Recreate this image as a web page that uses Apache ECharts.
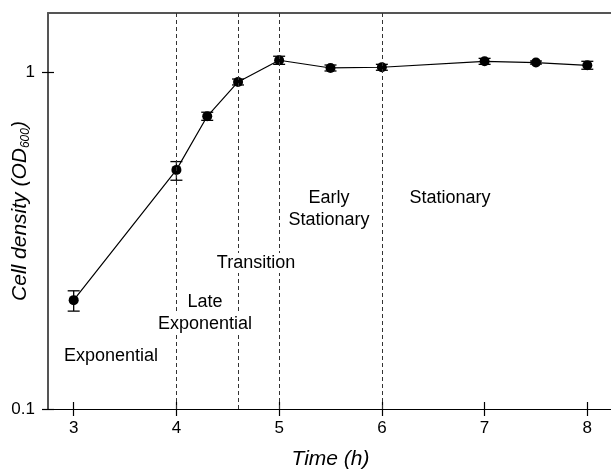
<!DOCTYPE html>
<html><head><meta charset="utf-8">
<script src="https://cdn.jsdelivr.net/npm/echarts@6/dist/echarts.min.js"></script>
<style>html,body{margin:0;padding:0;background:#fff}#c{width:611px;height:470px}</style>
</head><body><div id="c"></div>
<script>
// Data
var times = [3, 4, 4.3, 4.6, 5, 5.5, 6, 7, 7.5, 8];
var od600 = [0.2105, 0.513, 0.740, 0.936, 1.086, 1.030, 1.035, 1.078, 1.069, 1.049];
var errUpper = [0.2244, 0.543, 0.761, 0.955, 1.116, 1.051, 1.056, 1.100, 1.080, 1.078];
var errLower = [0.1953, 0.478, 0.720, 0.917, 1.056, 1.009, 1.014, 1.056, 1.058, 1.021];
var phaseBoundaries = [4, 4.6, 5, 6];
var xTicks = [3, 4, 5, 6, 7, 8];
var yTicks = [0.1, 1];
var phaseNames = ['Exponential', 'Late\nExponential', 'Transition', 'Early\nStationary', 'Stationary'];

var FONT = 'Liberation Sans, Arial, sans-serif';
var chart = echarts.init(document.getElementById('c'), null, {renderer: 'canvas'});

var linePts = times.map(function (t, i) { return [t, od600[i]]; });
var errPts = times.map(function (t, i) { return [t, errLower[i], errUpper[i]]; });

var labelPos = [[111, 356], [205, 313], [256, 263], [329, 209], [450, 198]];
var LH = 22;

var graphics = [];
phaseNames.forEach(function (name, i) {
  var lines = name.split('\n');
  var n = lines.length;
  lines.forEach(function (ln, k) {
    graphics.push({
      type: 'text', x: labelPos[i][0], y: labelPos[i][1] + (k - (n - 1) / 2) * LH, z: 10,
      style: {text: ln, fontSize: 18, fontFamily: FONT, fill: '#000', align: 'center', verticalAlign: 'middle',
        backgroundColor: '#fff', padding: [1, 1]}
    });
  });
});

var option = {
  animation: false,
  grid: {left: 48, right: -2, top: 13, bottom: 61, containLabel: false, outerBoundsMode: 'none'},
  xAxis: [
    {
      type: 'value', min: 2.75, max: 8.25, position: 'bottom',
      axisLine: {show: true, lineStyle: {color: '#000', width: 1.2}},
      axisTick: {show: true, inside: false, length: 7, customValues: xTicks, lineStyle: {color: '#000', width: 1.2}},
      axisLabel: {show: true, customValues: xTicks, margin: 11, fontSize: 17, color: '#000', fontFamily: FONT},
      splitLine: {show: false},
      name: 'Time (h)', nameLocation: 'middle', nameGap: 40, nameMoveOverlap: false,
      nameTextStyle: {fontSize: 21, fontStyle: 'italic', color: '#000', fontFamily: FONT}
    },
    {
      type: 'value', min: 2.75, max: 8.25, position: 'bottom', gridIndex: 0,
      axisLine: {show: false},
      axisTick: {show: true, inside: true, length: 7, customValues: xTicks, lineStyle: {color: '#000', width: 1.2}},
      axisLabel: {show: false}, splitLine: {show: false}
    },
    {
      type: 'value', min: 2.75, max: 8.25, position: 'top',
      axisLine: {show: true, lineStyle: {color: '#555', width: 2}},
      axisTick: {show: false}, axisLabel: {show: false}, splitLine: {show: false}
    }
  ],
  yAxis: [
    {
      type: 'log', logBase: 10, min: 0.1, max: 1.5, position: 'left',
      axisLine: {show: true, lineStyle: {color: '#555', width: 2}},
      axisTick: {show: true, inside: false, length: 6, customValues: yTicks, lineStyle: {color: '#000', width: 1.2}},
      axisLabel: {show: true, customValues: yTicks, margin: 13, fontSize: 17, color: '#000', fontFamily: FONT,
        formatter: function (v) { return v >= 1 ? '1' : '0.1'; }},
      splitLine: {show: false},
      name: '{t|Cell density (OD}{s|600}{t|)}', nameLocation: 'middle', nameGap: 16, nameMoveOverlap: false,
      nameTextStyle: {
        fontFamily: FONT,
        rich: {
          t: {fontSize: 21, lineHeight: 24, fontStyle: 'italic', color: '#000', fontFamily: FONT},
          s: {fontSize: 12, lineHeight: 12, fontStyle: 'italic', color: '#000', fontFamily: FONT, verticalAlign: 'bottom'}
        }
      }
    },
    {
      type: 'log', logBase: 10, min: 0.1, max: 1.5, position: 'left',
      axisLine: {show: false},
      axisTick: {show: true, inside: true, length: 6, customValues: yTicks, lineStyle: {color: '#000', width: 1.2}},
      axisLabel: {show: false}, splitLine: {show: false}
    }
  ],
  series: [
    {
      type: 'line', xAxisIndex: 0, yAxisIndex: 0, data: linePts,
      symbol: 'circle', symbolSize: 10,
      itemStyle: {color: '#000'},
      lineStyle: {color: '#000', width: 1.2},
      z: 3,
      markLine: {
        silent: true, symbol: 'none', label: {show: false},
        lineStyle: {color: '#333', width: 1, type: [4, 3]},
        data: phaseBoundaries.map(function (b) { return {xAxis: b}; })
      }
    },
    {
      type: 'custom', xAxisIndex: 0, yAxisIndex: 0, data: errPts, z: 4,
      renderItem: function (params, api) {
        var x = api.value(0);
        var lo = api.coord([x, api.value(1)]);
        var hi = api.coord([x, api.value(2)]);
        var w = 6;
        var st = {stroke: '#000', lineWidth: 1.3};
        return {
          type: 'group',
          children: [
            {type: 'line', shape: {x1: lo[0], y1: lo[1], x2: hi[0], y2: hi[1]}, style: st},
            {type: 'line', shape: {x1: lo[0] - w, y1: lo[1], x2: lo[0] + w, y2: lo[1]}, style: st},
            {type: 'line', shape: {x1: hi[0] - w, y1: hi[1], x2: hi[0] + w, y2: hi[1]}, style: st}
          ]
        };
      }
    }
  ],
  graphic: graphics
};
chart.setOption(option);
</script>
</body></html>
